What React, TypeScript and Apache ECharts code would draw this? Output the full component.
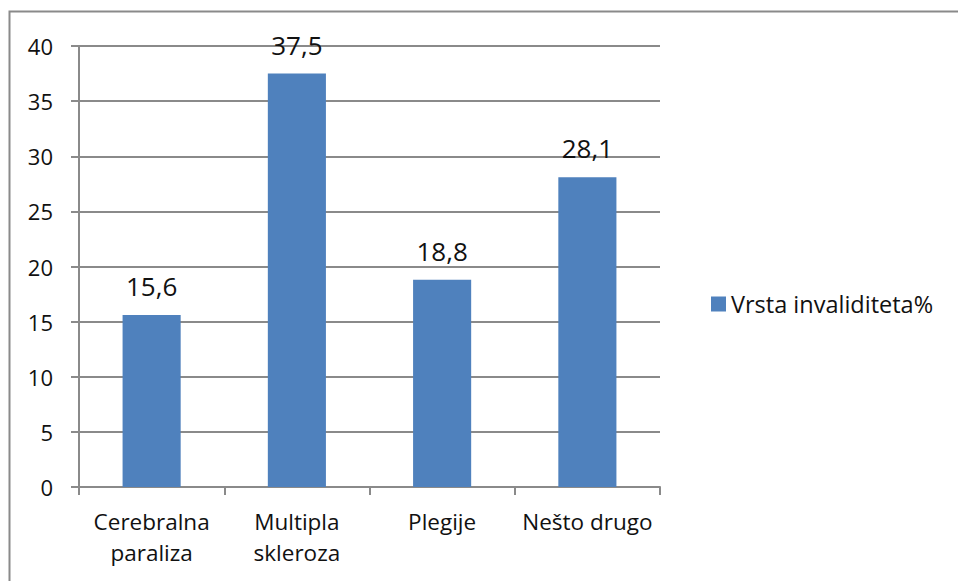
import React, { useEffect, useRef } from "react";
import * as echarts from "echarts";

const categories = ["Cerebralna\nparaliza", "Multipla\nskleroza", "Plegije", "Nešto drugo"];
const values = [15.6, 37.5, 18.8, 28.1];
const yTicks = { min: 0, max: 40, interval: 5 };
const seriesName = "Vrsta invaliditeta%";
const FONT = "'Open Sans', sans-serif";

export default function App() {
  const ref = useRef<HTMLDivElement>(null);
  useEffect(() => {
    const chart = echarts.init(ref.current!, null, { renderer: "svg" });
    chart.setOption({
      animation: false,
      backgroundColor: "#ffffff",
      textStyle: { fontFamily: FONT },
      graphic: [
        {
          type: "rect",
          shape: { x: 9.5, y: 11.5, width: 1000, height: 1000 },
          style: { fill: "none", stroke: "#8a8a8a", lineWidth: 2 },
          silent: true,
        },
      ],
      grid: { left: 79, top: 46, width: 581, height: 441, containLabel: false },
      legend: {
        left: 706,
        top: 287,
        orient: "vertical",
        itemWidth: 15,
        itemHeight: 15,
        itemGap: 6,
        icon: "rect",
        textStyle: { fontSize: 23.5, color: "#111", fontFamily: FONT },
        data: [seriesName],
      },
      xAxis: {
        type: "category",
        data: categories,
        axisLine: { lineStyle: { color: "#8a8a8a", width: 2 } },
        axisTick: { show: true, length: 8, alignWithLabel: false, lineStyle: { color: "#8a8a8a", width: 2 } },
        axisLabel: { interval: 0, fontSize: 22.5, color: "#111", lineHeight: 31, margin: 19, fontFamily: FONT },
      },
      yAxis: {
        type: "value",
        min: yTicks.min,
        max: yTicks.max,
        interval: yTicks.interval,
        axisLine: { show: true, lineStyle: { color: "#8a8a8a", width: 2 } },
        axisTick: { show: true, length: 8, lineStyle: { color: "#8a8a8a", width: 2 } },
        splitLine: { lineStyle: { color: "#8a8a8a", width: 2 } },
        axisLabel: { fontSize: 22, color: "#111", margin: 26, fontFamily: FONT },
      },
      series: [
        {
          name: seriesName,
          type: "bar",
          data: values,
          barWidth: "40%",
          itemStyle: { color: "#4f81bd" },
          label: {
            show: true,
            position: "top",
            distance: 16,
            fontSize: 26,
            color: "#111",
            fontFamily: FONT,
            formatter: (p: any) => String(p.value.toFixed(1)).replace(".", ","),
          },
        },
      ],
    });
    return () => chart.dispose();
  }, []);
  return (
    <div
      ref={ref}
      style={{ position: "absolute", left: 0, top: 0, width: 958, height: 581 }}
    />
  );
}
